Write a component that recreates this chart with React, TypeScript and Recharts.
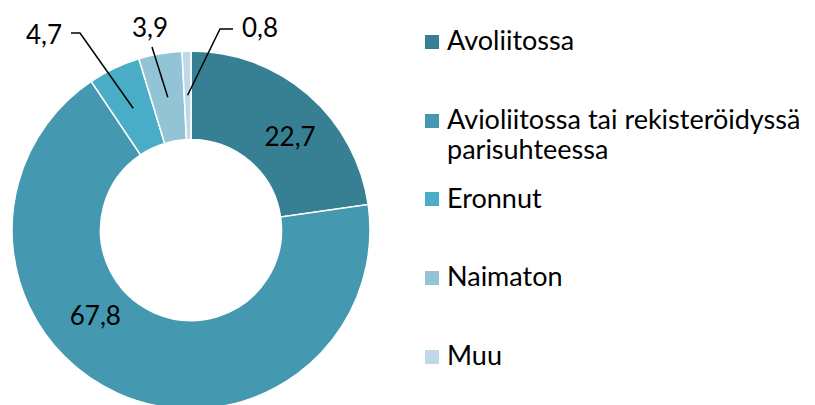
import React from 'react';
import { PieChart, Pie, Cell, Legend } from 'recharts';

const categories = [
    'Avoliitossa',
    'Avioliitossa tai rekisteröidyssä parisuhteessa',
    'Eronnut',
    'Naimaton',
    'Muu'
];
const values = [22.7, 67.8, 4.7, 3.9, 0.8];
const colors = ['#377F93', '#4499B0', '#4AADC7', '#93C4D5', '#BDDAE6'];

const data = categories.map((name, i) => ({ name, value: values[i] }));

const fmt = (v: number) => v.toFixed(1).replace('.', ',');

const FONT = 'Lato, "Open Sans", sans-serif';
const RAD = Math.PI / 180;

// label placement: big slices inside the ring, small ones pulled out with a leader line
const labelLayout: Record<number, any> = {
    0: { inside: true, angleShift: -6, rShift: 1 },
    1: { inside: true, angleShift: -24, rShift: -6 },
    2: { elbow: [-111, -197], tick: -9, tx: -9, ty: 11, anchor: 'end' },
    3: { elbow: [-39, -183], tick: 0, tx: -2, ty: -10, anchor: 'middle' },
    4: { elbow: [29, -201], tick: 13, tx: 9, ty: 8, anchor: 'start' }
};

const renderLabel = (props: any) => {
    const { cx, cy, midAngle, innerRadius, outerRadius, index, value } = props;
    const conf = labelLayout[index];
    const rMid = (innerRadius + outerRadius) / 2;
    if (conf.inside) {
        const a = (midAngle + conf.angleShift) * RAD;
        const r = rMid + conf.rShift;
        const x = cx + r * Math.cos(a);
        const y = cy - r * Math.sin(a);
        return (
            <text x={x} y={y + 9} textAnchor="middle" fill="#000" fontSize={26} fontFamily={FONT}>
                {fmt(value)}
            </text>
        );
    }
    const a = midAngle * RAD;
    const sx = cx + rMid * Math.cos(a);
    const sy = cy - rMid * Math.sin(a);
    const ex = cx + conf.elbow[0];
    const ey = cy + conf.elbow[1];
    const tx = ex + conf.tick;
    return (
        <g>
            <polyline
                points={`${sx},${sy} ${ex},${ey} ${tx},${ey}`}
                fill="none"
                stroke="#000"
                strokeWidth={1.5}
            />
            <text x={tx + conf.tx} y={ey + conf.ty} textAnchor={conf.anchor} fill="#000" fontSize={26} fontFamily={FONT}>
                {fmt(value)}
            </text>
        </g>
    );
};

const renderLegend = () => (
    <div style={{ fontFamily: FONT, fontSize: 27, lineHeight: '30px', color: '#000' }}>
        {categories.map((name, i) => (
            <div key={name} style={{ display: 'flex', alignItems: 'flex-start', height: 78.7 }}>
                <div
                    style={{
                        width: 14,
                        height: 14,
                        background: colors[i],
                        marginTop: 9.6,
                        marginRight: 8,
                        flexShrink: 0
                    }}
                />
                <div style={{ width: 380 }}>{name}</div>
            </div>
        ))}
    </div>
);

const App: React.FC = () => {
    return (
        <div style={{ position: 'absolute', left: 0, top: 0, width: 815, height: 405, overflow: 'hidden', background: '#fff' }}>
            <PieChart width={815} height={405} margin={{ top: 0, right: 0, bottom: 0, left: 0 }}>
                <Pie
                    data={data}
                    dataKey="value"
                    nameKey="name"
                    cx={191}
                    cy={230}
                    innerRadius={90.5}
                    outerRadius={179}
                    startAngle={90}
                    endAngle={-270}
                    stroke="#fff"
                    strokeWidth={1.5}
                    label={renderLabel}
                    labelLine={false}
                    isAnimationActive={false}
                >
                    {data.map((d, i) => (
                        <Cell key={d.name} fill={colors[i]} />
                    ))}
                </Pie>
                <Legend
                    content={renderLegend}
                    wrapperStyle={{ position: 'absolute', left: 425, top: 25.3, width: 410 }}
                />
            </PieChart>
        </div>
    );
};

export default App;
